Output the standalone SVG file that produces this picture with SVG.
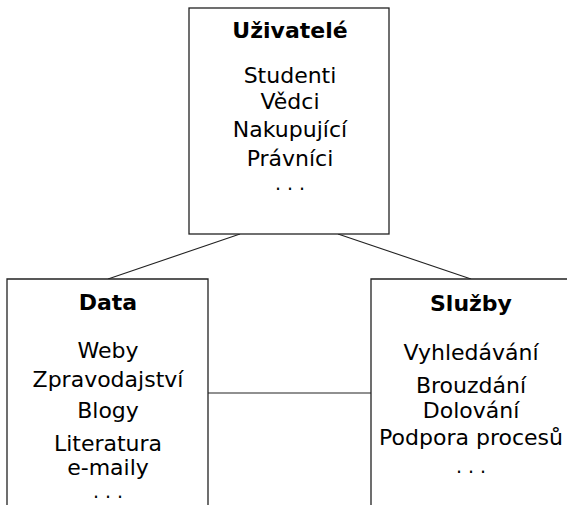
<svg xmlns="http://www.w3.org/2000/svg" width="567" height="505" viewBox="0 0 567 505">
<style>
.box{fill:#fff;stroke:#222;stroke-width:1.3}
.edge{fill:none;stroke:#222;stroke-width:1.1}
text{font-family:"DejaVu Sans",sans-serif;font-size:22px;fill:#000;text-anchor:middle}
.title{font-weight:bold}
.dots{font-size:19px}
</style>
<rect width="567" height="505" fill="#fff"/>
<g id="connectors">
<line class="edge" x1="240" y1="234" x2="108" y2="279"/>
<line class="edge" x1="338" y1="234" x2="471" y2="279"/>
<line class="edge" x1="208" y1="393" x2="371" y2="393"/>
</g>
<g id="uzivatele">
<rect class="box" x="189" y="8" width="200" height="226"/>
<text class="title" x="290" y="38">Uživatelé</text>
<text x="290" y="83">Studenti</text>
<text x="290" y="109">Vědci</text>
<text x="290" y="137">Nakupující</text>
<text x="290" y="166">Právníci</text>
<text class="dots" x="290" y="190">. . .</text>
</g>
<g id="data">
<path class="box" d="M7,506 V279 H208 V506"/>
<text class="title" x="108" y="310">Data</text>
<text x="108" y="358">Weby</text>
<text x="108" y="387">Zpravodajství</text>
<text x="108" y="418">Blogy</text>
<text x="108" y="451">Literatura</text>
<text x="108" y="475">e-maily</text>
<text class="dots" x="108" y="498">. . .</text>
</g>
<g id="sluzby">
<path class="box" d="M371,506 V279 H571 V506"/>
<text class="title" x="471" y="311">Služby</text>
<text x="471" y="360">Vyhledávání</text>
<text x="471" y="393">Brouzdání</text>
<text x="471" y="418">Dolování</text>
<text x="471" y="445">Podpora procesů</text>
<text class="dots" x="471" y="473">. . .</text>
</g>
</svg>
